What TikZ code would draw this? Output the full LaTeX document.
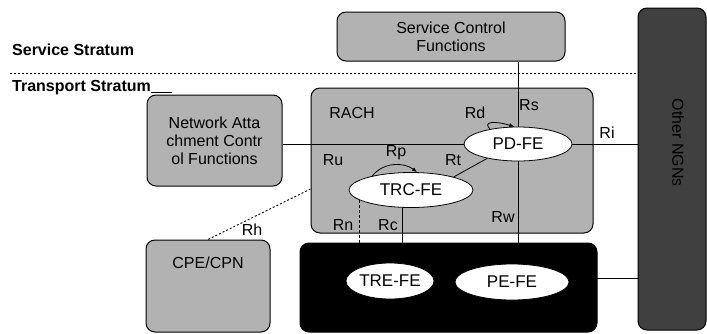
\documentclass[tikz,border=0pt]{standalone}
\usepackage{fontspec}
\setmainfont{Liberation Sans}
\usetikzlibrary{arrows.meta,shapes.geometric}
\begin{document}
\begin{tikzpicture}[x=1pt,y=-1pt,
  font=\fontsize{16}{18}\selectfont,
  box/.style={draw, line width=1pt, rounded corners=9pt, fill=black!30},
  fe/.style={ellipse, draw, fill=white, line width=0.8pt, inner sep=0pt, font=\fontsize{17}{19}\selectfont},
  lbl/.style={inner sep=0pt},
  link/.style={line width=0.8pt},
  curv/.style={line width=0.8pt, -{Latex[length=5pt,width=4pt]}}]
\useasboundingbox (0,0) rectangle (707,333);

% boxes
\node[box, minimum width=228pt, minimum height=49pt, align=center] (scf) at (451,36.5) {Service Control\\Functions};
\node[box, fill=black!75, minimum width=68pt, minimum height=322pt] (ngn) at (672,169) {};
\node[lbl, rotate=-90] (ngnt) at (678,143) {Other NGNs};
\node[box, minimum width=135pt, minimum height=91pt, align=center, font=\fontsize{16}{18}\selectfont] (nacf) at (214.5,140.5) {Network Atta\\chment Contr\\ol Functions};
\node[box, minimum width=282pt, minimum height=145pt] (rach) at (452,160.5) {};
\node[box, minimum width=124pt, minimum height=92pt] (cpe) at (208,286) {};
\node[lbl] (cpet) at (208,263) {CPE/CPN};
\node[box, fill=black, minimum width=297pt, minimum height=89pt] (blk) at (448.5,287.5) {};

% stratum labels
\node[lbl, anchor=west, font=\bfseries\fontsize{16}{18}\selectfont] (ss) at (12,50) {Service Stratum};
\node[lbl, anchor=west, font=\bfseries\fontsize{16}{18}\selectfont] (ts) at (12,88) {Transport Stratum};
\coordinate (sl) at (10,73);
\draw[line width=0.9pt, dash pattern=on 2pt off 2pt] (sl) -- (sl -| ngn.west);
\draw[line width=0.6pt] (ts.base east) -- ++(21,0);

% functional entities
\node[fe, minimum width=108pt, minimum height=34pt] (pd) at (518,144) {PD-FE};
\node[fe, minimum width=124pt, minimum height=35pt] (trc) at (411,190) {TRC-FE};
\node[fe, minimum width=88pt, minimum height=36pt] (tre) at (390,281) {TRE-FE};
\node[fe, minimum width=114pt, minimum height=36pt] (pe) at (512,282) {PE-FE};

% connectors
\draw[link] (pd.north |- scf.south) -- (pd.north);
\draw[link] (pd.south) -- (pd.south |- blk.north);
\draw[link] (nacf.east |- pd.west) -- (pd.west);
\draw[link] (pd.east) -- (pd.east -| ngn.west);
\coordinate (bk) at (597,278);
\draw[link] (bk) -- (bk -| ngn.west);
\draw[link] (trc.17) -- (pd.205);
\draw[link] (trc.245) -- (trc.245 |- blk.north);
\draw[link, dash pattern=on 3pt off 2pt] (trc.191) -- ([yshift=-5pt]trc.191 |- blk.north);
\draw[line width=0.9pt, dash pattern=on 2pt off 2pt] (rach.west |- 0,189) -- (cpe.north);
\draw[curv] (trc.160) .. controls (383,162) and (404,162) .. ([xshift=6pt]trc.north);
\draw[curv] (pd.152) .. controls (482,121) and (496,121) .. (pd.102);

% labels
\node[lbl] (lrach) at (352,113) {RACH};
\node[lbl] (lrd) at (475,113) {Rd};
\node[lbl] (lrs) at (529,105) {Rs};
\node[lbl] (lri) at (607,133) {Ri};
\node[lbl] (lru) at (333,160) {Ru};
\node[lbl] (lrp) at (396,153) {Rp};
\node[lbl] (lrt) at (453,160) {Rt};
\node[lbl] (lrn) at (343,225) {Rn};
\node[lbl] (lrc) at (388,225) {Rc};
\node[lbl] (lrw) at (503,217) {Rw};
\node[lbl] (lrh) at (252,230) {Rh};
\end{tikzpicture}
\end{document}
